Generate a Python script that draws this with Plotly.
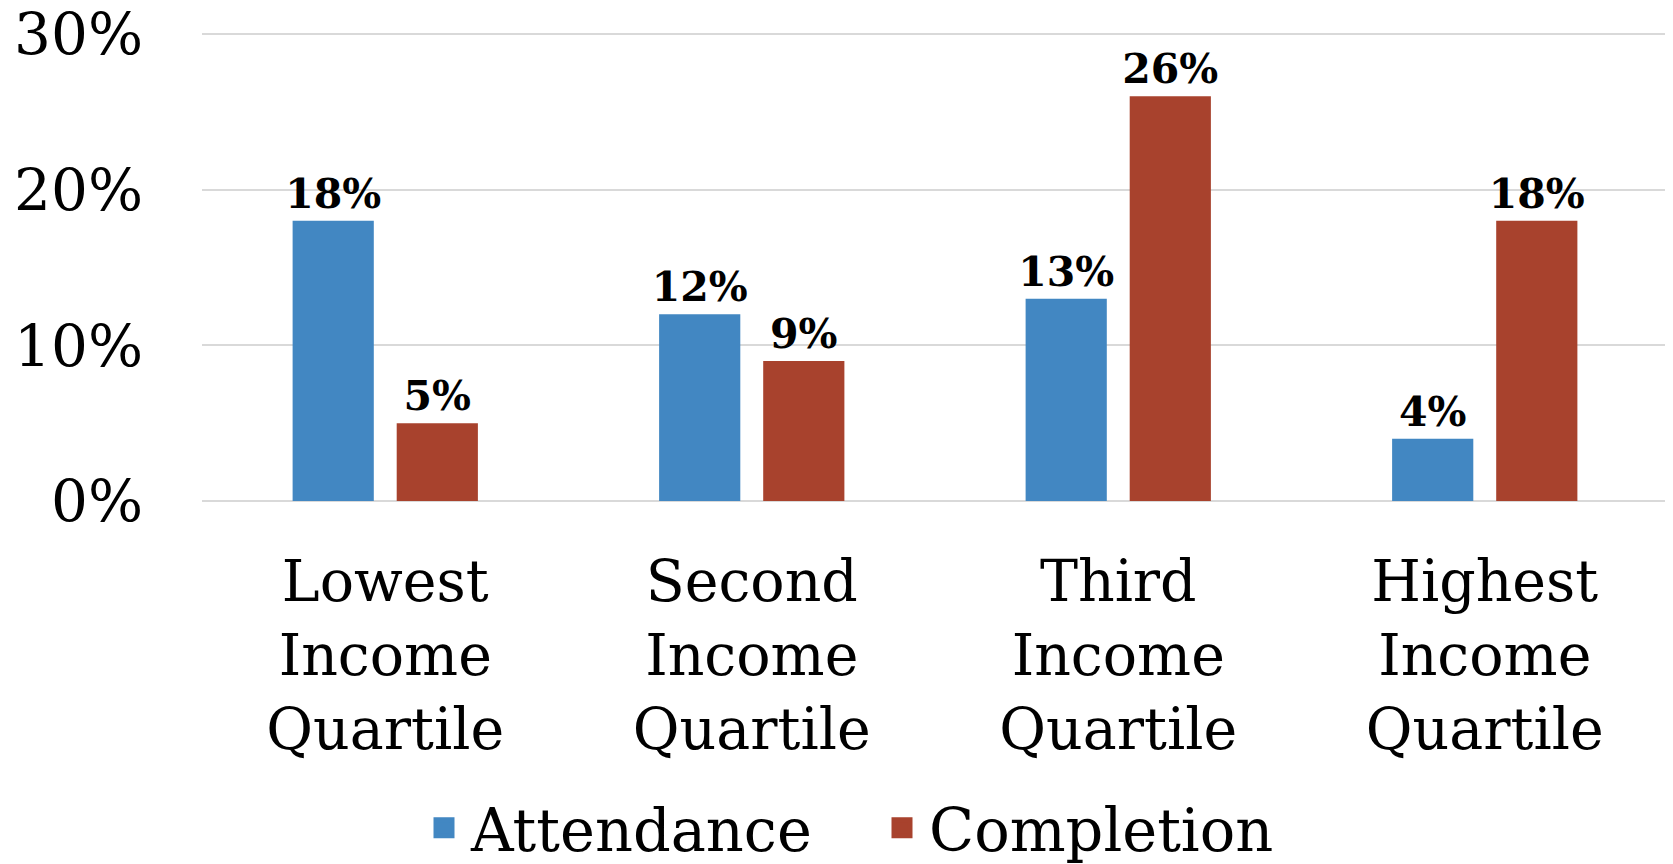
import plotly.graph_objects as go

categories = ["Lowest<br>Income<br>Quartile", "Second<br>Income<br>Quartile",
              "Third<br>Income<br>Quartile", "Highest<br>Income<br>Quartile"]
attendance = [18, 12, 13, 4]
completion = [5, 9, 26, 18]
y_ticks = [0, 10, 20, 30]
y_tick_labels = ["0%", "10%", "20%", "30%"]

BLUE = "#4287C2"
RED = "#A8422D"
FONT = "DejaVu Serif"

# The page body has an 8px margin, so the figure is sized/offset to match the window.
W, H = 1665, 856

fig = go.Figure()
for name, vals, col in [("Attendance", attendance, BLUE), ("Completion", completion, RED)]:
    fig.add_trace(go.Bar(
        x=categories, y=vals, name=name, marker=dict(color=col, line=dict(width=0)),
        text=[f"<b>{v}%</b>" for v in vals], textposition="outside", constraintext="none",
        textfont=dict(family=FONT, size=41, color="black"), cliponaxis=False,
        showlegend=False, legendgroup=name,
    ))
    fig.add_trace(go.Scatter(
        x=[None], y=[None], mode="markers", name=name, legendgroup=name,
        marker=dict(symbol="square", size=16, color=col, line=dict(color=col, width=5)),
        showlegend=True,
    ))

fig.update_layout(
    width=W, height=H,
    margin=dict(l=194, r=5, t=22.9, b=362.5, autoexpand=False),
    paper_bgcolor="white", plot_bgcolor="white",
    barmode="group", bargap=0.432, bargroupgap=0.22,
    font=dict(family=FONT, color="black"),
    legend=dict(orientation="h", xref="container", yref="container",
                x=409 / W, y=1 - 820 / H, xanchor="left", yanchor="middle",
                font=dict(family=FONT, size=59, color="black"),
                itemwidth=44, entrywidth=399, entrywidthmode="pixels", tracegroupgap=0),
    xaxis=dict(showgrid=False, showline=False, ticks="", ticklabelstandoff=42,
               tickfont=dict(family=FONT, size=57, color="black")),
    yaxis=dict(range=[0, 30.2], tickvals=y_ticks, ticktext=y_tick_labels,
               showgrid=True, gridcolor="#D9D9D9", gridwidth=2,
               zeroline=True, zerolinecolor="#D9D9D9", zerolinewidth=2,
               showline=False, ticks="", ticklabelstandoff=58,
               ticklabeloverflow="allow",
               tickfont=dict(family=FONT, size=58, color="black")),
)

fig.write_html("out.html")
